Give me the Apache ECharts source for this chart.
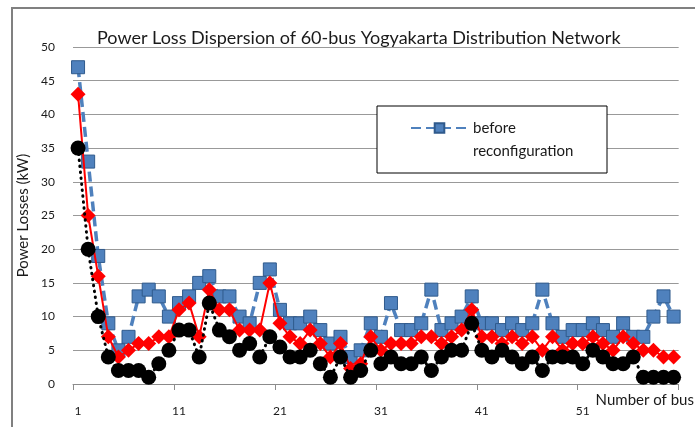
<!DOCTYPE html>
<html><head><meta charset="utf-8">
<script src="https://cdn.jsdelivr.net/npm/echarts@6/dist/echarts.min.js"></script>
<style>html,body{margin:0;padding:0;background:#fff}#c{width:695px;height:427px}</style>
</head><body><div id="c"></div>
<script>
const categories = Array.from({length: 60}, (_, i) => String(i + 1));
const beforeValues = [47,33,19,9,5,7,13,14,13,10,12,13,15,16,13,13,10,9,15,17,11,9,9,10,8,6,7,4,5,9,7,12,8,8,9,14,8,9,10,13,9,9,8,9,8,9,14,9,7,8,8,9,8,7,9,7,7,10,13,10];
const redValues = [43,25,16,7,4,5,6,6,7,7,11,12,7,14,11,11,8,8,8,15,9,7,6,8,6,4,6,2.3,3,7,5,6,6,6,7,7,6,7,8,11,7,7,6,7,6,7,5,7,5,6,6,7,6,5,7,6,5,5,4,4];
const blackValues = [35,20,10,4,2,2,2,1,3,5,8,8,4,12,8,7,5,6,4,7,5.5,4,4,5,3,1,4,1,2,5,3,4,3,3,4,2,4,5,5,9,5,4,5,4,3,4,2,4,4,4,3,5,4,3,3,4,1,1,1,1];
const seriesNames = ['before\nreconfiguration', 'Series 2', 'Series 3'];
const yTicks = {min: 0, max: 50, interval: 5};
const font = 'Lato, "Open Sans", sans-serif';

const chart = echarts.init(document.getElementById('c'), null, {renderer: 'canvas'});
chart.setOption({
  animation: false,
  backgroundColor: '#fff',
  textStyle: {fontFamily: font},
  title: {
    text: 'Power Loss Dispersion of 60-bus Yogyakarta Distribution Network',
    left: 97, top: 29, padding: 0,
    textStyle: {fontFamily: font, fontSize: 18, fontWeight: 'normal', color: '#1a1a1a'}
  },
  graphic: [
    {type: 'rect', shape: {x: 12, y: 8, width: 720, height: 460}, style: {fill: 'none', stroke: '#808080', lineWidth: 2}, z: 1},
    {type: 'rect', shape: {x: 377, y: 106, width: 230, height: 67}, style: {fill: '#fff', stroke: '#000', lineWidth: 1}, z: 3}
  ],
  legend: {
    data: [seriesNames[0]],
    left: 410, top: 93.5, padding: 0,
    itemWidth: 57, itemHeight: 12, itemGap: 6,
    z: 5,
    formatter: (name) => '\n' + name,
    textStyle: {fontFamily: font, fontSize: 15, color: '#1a1a1a', lineHeight: 23}
  },
  grid: {left: 73, right: 4, top: 47, bottom: 43, containLabel: false},
  xAxis: {
    type: 'category', data: categories, boundaryGap: true,
    name: 'Number of bus', nameLocation: 'end', nameGap: -98,
    nameTextStyle: {fontFamily: font, fontSize: 15, color: '#1a1a1a', verticalAlign: 'top', align: 'left', padding: [9, 0, 0, 0]},
    axisLine: {lineStyle: {color: '#8c8c8c', width: 1}},
    axisTick: {show: true, interval: 9, length: 6, lineStyle: {color: '#8c8c8c'}},
    axisLabel: {interval: 9, margin: 21, fontSize: 12, color: '#1a1a1a', fontFamily: font},
    splitLine: {show: false}
  },
  yAxis: {
    type: 'value', min: yTicks.min, max: yTicks.max, interval: yTicks.interval,
    name: 'Power Losses (kW)', nameLocation: 'middle', nameGap: 37, nameRotate: 90,
    nameTextStyle: {fontFamily: font, fontSize: 15, color: '#1a1a1a'},
    axisLine: {show: false}, axisTick: {show: false},
    axisLabel: {margin: 18, fontSize: 12, color: '#1a1a1a', fontFamily: font},
    splitLine: {lineStyle: {color: '#999999', width: 1.2}}
  },
  series: [
    {
      name: seriesNames[0], type: 'line', data: beforeValues, z: 2,
      symbol: 'rect', symbolSize: 13, showAllSymbol: true,
      lineStyle: {color: '#4F81BD', width: 3.5, type: [10, 5]},
      itemStyle: {color: '#4F81BD', borderColor: '#2f5a8c', borderWidth: 1}
    },
    {
      name: seriesNames[1], type: 'line', data: redValues, z: 3,
      symbol: 'diamond', symbolSize: 15, showAllSymbol: true,
      lineStyle: {color: '#ff0000', width: 2},
      itemStyle: {color: '#ff0000', borderWidth: 0}
    },
    {
      name: seriesNames[2], type: 'line', data: blackValues, z: 4,
      symbol: 'circle', symbolSize: 15, showAllSymbol: true,
      lineStyle: {color: '#000', width: 3, type: [0.5, 5.5], cap: 'round'},
      itemStyle: {color: '#000', borderWidth: 0}
    }
  ]
});
</script></body></html>
